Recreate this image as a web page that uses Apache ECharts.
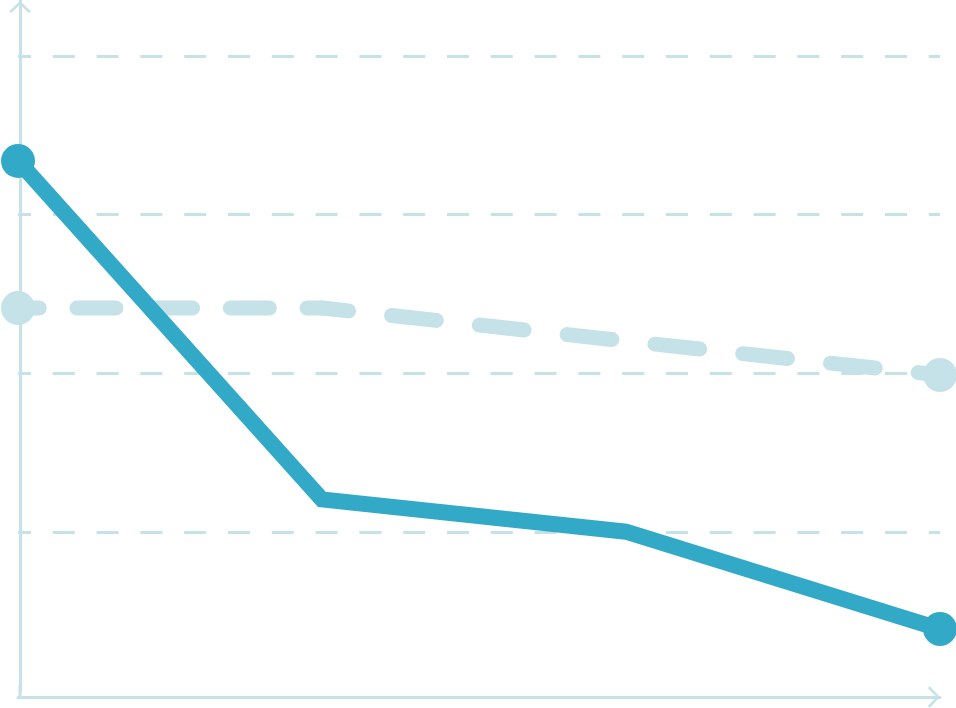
<!DOCTYPE html>
<html>
<head>
<meta charset="utf-8">
<style>
  html, body { margin: 0; padding: 0; background: #ffffff; }
  #chart { width: 956px; height: 708px; }
</style>
<script src="https://cdn.jsdelivr.net/npm/echarts@6/dist/echarts.min.js"></script>
</head>
<body>
<div id="chart"></div>
<script>
// x positions (days from start) of the four observations
const days = [0, 30, 60, 91];
// solid (dark) series values
const solidValues = [3.338, 1.206, 1.003, 0.390];
// dashed (light) series values
const dashedValues = [2.412, 2.412, 2.204, 1.990];

const DARK = '#33a9c8';
const LIGHT = '#c5e2e8';

const chevron = 'path://M0,10.5 L11,0 L22,10.5 L19.8,12 L11,3.4 L2.2,12 Z';
// thin bar (with tiny corner anchors so the bounding box is the full symbol box)
const bar = 'path://M0,0 L0.01,0 L0,0.01 Z M22,12 L21.99,12 L22,11.99 Z M9.5,0 L12.5,0 L12.5,12 L9.5,12 Z';

function pairs(xs, ys, from, to) {
  const out = [];
  for (let i = from; i <= to; i++) out.push([xs[i], ys[i]]);
  return out;
}
function symbolAt(size, indices) {
  return function (val, params) {
    return indices.indexOf(params.dataIndex) >= 0 ? size : 0;
  };
}

const n = days.length;
const chart = echarts.init(document.getElementById('chart'), null, { renderer: 'canvas' });
chart.setOption({
  backgroundColor: '#ffffff',
  animation: false,
  grid: { left: 18, right: 16, top: 1, bottom: 17, containLabel: false },
  xAxis: {
    type: 'value',
    min: 0,
    max: 91,
    offset: 6,
    axisLabel: { show: false },
    axisTick: { show: false },
    splitLine: { show: false },
    axisLine: {
      show: true,
      onZero: false,
      lineStyle: { color: LIGHT, width: 3 },
      symbol: ['none', chevron],
      symbolSize: [22, 12],
      symbolOffset: [0, -6]
    }
  },
  yAxis: {
    type: 'value',
    min: 0,
    max: 4.345,
    interval: 1,
    offset: -2,
    axisLabel: { show: false },
    axisTick: { show: false },
    axisLine: {
      show: true,
      onZero: false,
      lineStyle: { color: LIGHT, width: 3 },
      symbol: [bar, chevron],
      symbolSize: [22, 12],
      symbolOffset: [0, -6]
    },
    splitLine: {
      show: true,
      showMinLine: false,
      showMaxLine: false,
      lineStyle: { color: LIGHT, width: 3, type: [22, 21.8], dashOffset: 9 }
    }
  },
  series: [
    {
      type: 'line',
      data: pairs(days, dashedValues, 0, 1),
      symbol: 'circle',
      symbolSize: symbolAt(34, [0]),
      showAllSymbol: true,
      clip: false,
      itemStyle: { color: LIGHT, borderWidth: 0 },
      lineStyle: { color: LIGHT, width: 15, type: [39, 37.7], dashOffset: 17.8, cap: 'round', join: 'round' },
      z: 2
    },
    {
      type: 'line',
      data: pairs(days, dashedValues, 1, n - 1),
      symbol: 'circle',
      symbolSize: symbolAt(34, [n - 2]),
      showAllSymbol: true,
      clip: false,
      itemStyle: { color: LIGHT, borderWidth: 0 },
      lineStyle: { color: LIGHT, width: 15, type: [45, 43.3], dashOffset: 18.3, cap: 'round', join: 'round' },
      z: 2
    },
    {
      type: 'line',
      data: pairs(days, solidValues, 0, n - 1),
      symbol: 'circle',
      symbolSize: symbolAt(34, [0, n - 1]),
      showAllSymbol: true,
      clip: false,
      itemStyle: { color: DARK, borderWidth: 0 },
      lineStyle: { color: DARK, width: 16, join: 'miter' },
      z: 3
    }
  ]
});
</script>
</body>
</html>
